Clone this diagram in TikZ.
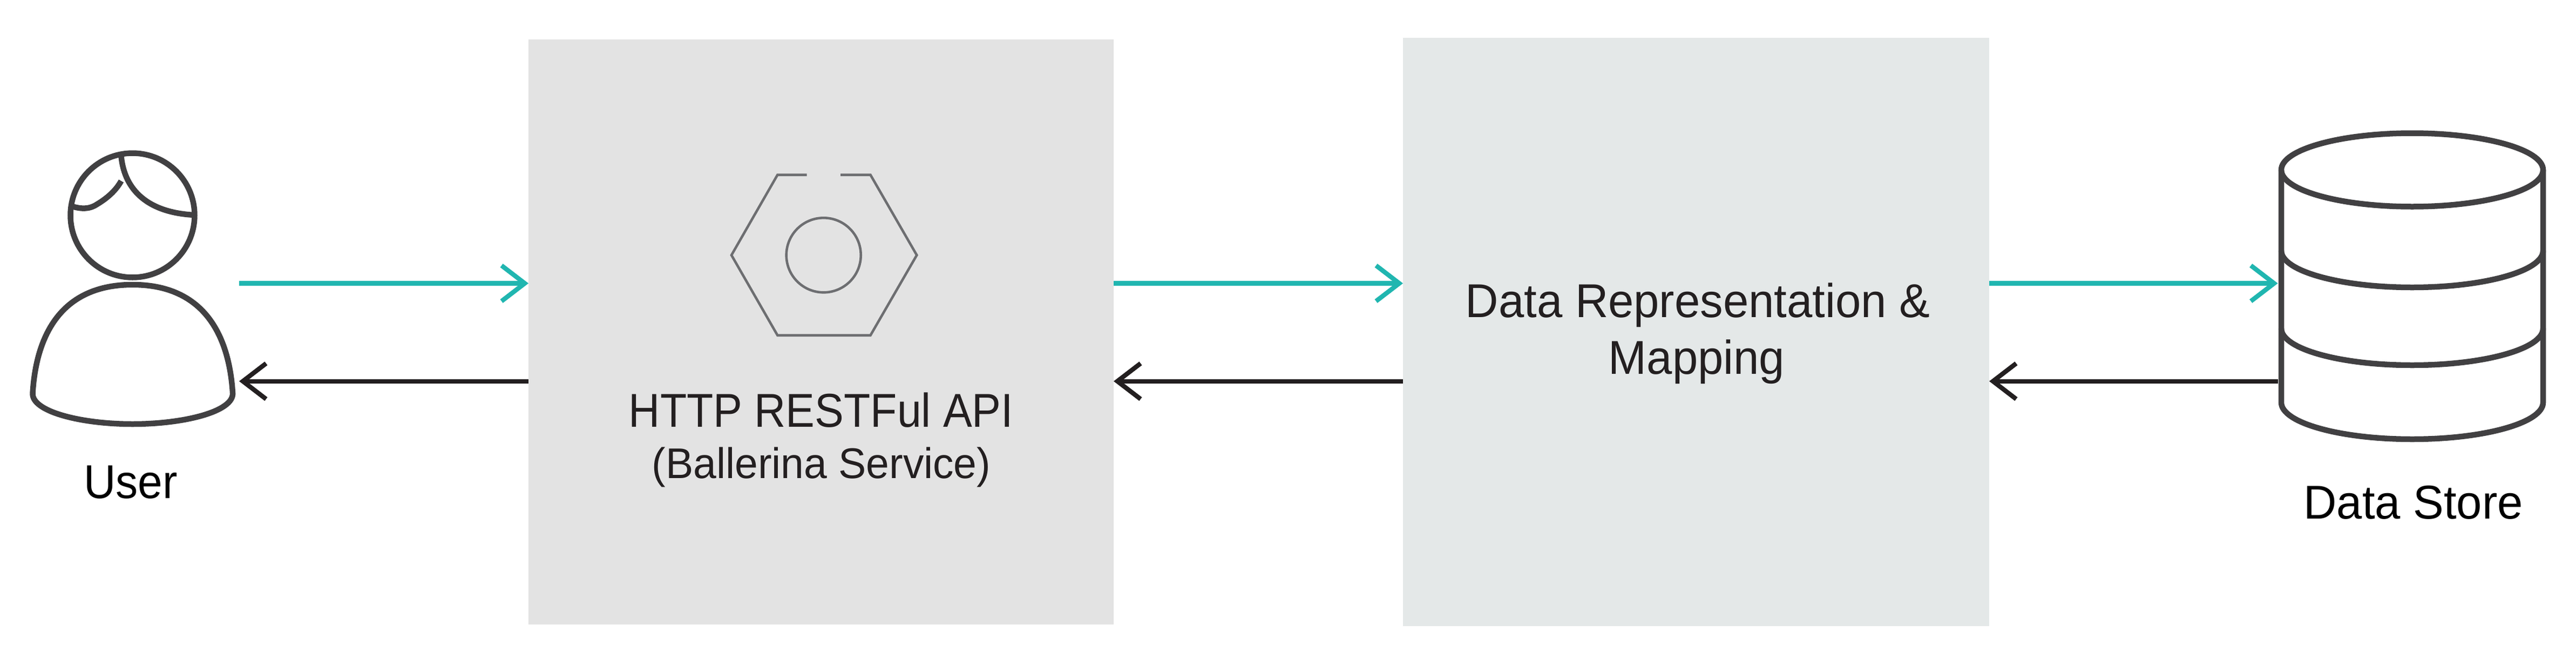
\documentclass[tikz,border=0pt]{standalone}
\usepackage{fontspec}
\setmainfont{Liberation Sans}
\newfontfamily\apifont[FakeStretch=0.917]{Liberation Sans}
\newfontfamily\userfont[FakeStretch=0.935]{Liberation Sans}
\newfontfamily\labelfont[FakeStretch=0.967]{Liberation Sans}
\usetikzlibrary{arrows.meta}
\definecolor{iconcolor}{rgb}{0.254902, 0.250980, 0.258824}
\definecolor{nutcolor}{rgb}{0.427451, 0.431373, 0.443137}
\definecolor{sendcolor}{rgb}{0.125490, 0.713725, 0.690196}
\definecolor{backcolor}{rgb}{0.137255, 0.121569, 0.125490}
\definecolor{apicolor}{rgb}{0.890196, 0.890196, 0.890196}
\definecolor{mapcolor}{rgb}{0.894118, 0.909804, 0.909804}
\newlength{\du}
\setlength{\du}{0.01cm}
\tikzset{
  panel/.style={rectangle,inner sep=0pt,outer sep=0pt},
  icon/.style={draw=iconcolor,line width=10.5\du},
  nut/.style={draw=nutcolor,line width=4.6\du,miter limit=10},
  sendline/.style={draw=sendcolor,line width=8.4\du,-{Straight Barb[length=0.43cm,width=0.66cm]}},
  backline/.style={draw=backcolor,line width=8.4\du,-{Straight Barb[length=0.43cm,width=0.66cm]}},
  caption/.style={inner sep=0pt,anchor=base,text=black},
  boxtext/.style={inner sep=0pt,anchor=base,text=backcolor},
}
\begin{document}
\begin{tikzpicture}
\pgftransformxscale{1.000000}
\pgftransformyscale{-1.000000}
\useasboundingbox[fill=white] (0\du,0\du) rectangle (4772\du,1230\du);
\coordinate (sendrow) at (0\du,524.5\du);
\coordinate (backrow) at (0\du,705.7\du);
% boxes
\node[panel,fill=apicolor,minimum width=1084\du,minimum height=1083\du] (apibox) at (1521\du,614.5\du){};
\node[panel,fill=mapcolor,minimum width=1086\du,minimum height=1089\du] (mapbox) at (3142\du,614.5\du){};
\node[boxtext,font=\labelfont\fontsize{25pt}{30pt}\selectfont] (mapline) at (3145\du,587.7\du){Data Representation \&};
\node[boxtext,font=\labelfont\fontsize{25pt}{30pt}\selectfont] (mapword) at (3143\du,692.7\du){Mapping};
% user
\coordinate (userside) at (443\du,614.5\du);
\draw[icon] (245.5\du,398.5\du) circle (115\du);
\draw[icon] (60.6\du,727\du) .. controls (66\du,640\du) and (100\du,527\du) .. (245.5\du,527\du) .. controls (391\du,527\du) and (425.5\du,640\du) .. (431\du,727\du) .. controls (434\du,762\du) and (340\du,785\du) .. (245.5\du,785\du) .. controls (151\du,785\du) and (57\du,762\du) .. (60.6\du,727\du) -- cycle;
\draw[icon] (224.5\du,289\du) .. controls (229.6\du,344\du) and (265\du,393\du) .. (360\du,398\du);
\draw[icon] (224.5\du,335\du) .. controls (215\du,352\du) and (200\du,366\du) .. (180\du,378\du) .. controls (165\du,388\du) and (150\du,387\du) .. (132\du,381.6\du);
\node[caption,font=\userfont\fontsize{25pt}{30pt}\selectfont] (userlabel) at (242\du,922.5\du){User};
% nut
\draw[nut] (1494.7\du,323.7\du) -- (1440.3\du,323.7\du) -- (1355\du,472.3\du) -- (1440.3\du,620.7\du) -- (1612.5\du,620.7\du) -- (1698.3\du,472.3\du) -- (1612.5\du,323.7\du) -- (1557\du,323.7\du);
\draw[nut] (1525.7\du,472.3\du) circle (69\du);
\node[boxtext,font=\apifont\fontsize{25pt}{30pt}\selectfont] (apilabel) at (1521\du,790\du){HTTP RESTFul API};
\node[boxtext,font=\labelfont\fontsize{22.6pt}{30pt}\selectfont] (apisub) at (1521.5\du,885\du){(Ballerina Service)};
% store
\coordinate (storeside) at (4219.6\du,614.5\du);
\draw[icon] (4226\du,314.5\du) -- (4226\du,745\du) arc[start angle=180,end angle=0,x radius=242.5\du,y radius=68\du] -- (4711\du,314.5\du);
\draw[icon] (4468.5\du,314.5\du) ellipse [x radius=242.5\du,y radius=68\du];
\draw[icon] (4226\du,464\du) arc[start angle=180,end angle=0,x radius=242.5\du,y radius=68\du];
\draw[icon] (4226\du,608\du) arc[start angle=180,end angle=0,x radius=242.5\du,y radius=68\du];
\node[caption,font=\labelfont\fontsize{25pt}{30pt}\selectfont] (storelabel) at (4470.5\du,960\du){Data Store};
% flows
\draw[sendline] (userside |- sendrow) -- (apibox.west |- sendrow);
\draw[sendline] (apibox.east |- sendrow) -- (mapbox.west |- sendrow);
\draw[sendline] (mapbox.east |- sendrow) -- (storeside |- sendrow);
\draw[backline] (storeside |- backrow) -- (mapbox.east |- backrow);
\draw[backline] (mapbox.west |- backrow) -- (apibox.east |- backrow);
\draw[backline] (apibox.west |- backrow) -- (userside |- backrow);
\end{tikzpicture}
\end{document}
